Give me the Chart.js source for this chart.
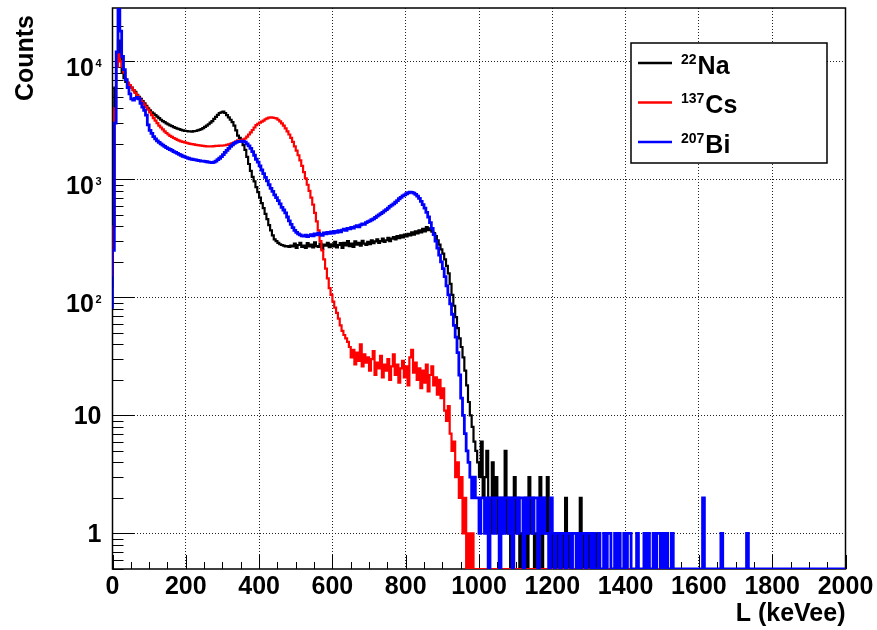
<!DOCTYPE html>
<html>
<head>
<meta charset="utf-8">
<script src="https://cdn.jsdelivr.net/npm/chart.js@4.4.1/dist/chart.umd.min.js"></script>
<style>
  html, body { margin: 0; padding: 0; background: #fff; }
  canvas { display: block; }
</style>
</head>
<body>
<canvas id="spectrumChart" width="877" height="630"></canvas>
<script>
// Histogram bins are 5 keVee wide, starting at 0 (400 bins up to 2000)
const binWidth = 5;

// 22Na light output spectrum (counts per bin)
const naCounts = [
  120, 400, 6000, 12000, 15000, 11000, 8000, 7200, 6700, 6400,
  6200, 6000, 5700, 5500, 5200, 5000, 4800, 4600, 4400, 4200,
  4000, 3850, 3700, 3600, 3500, 3400, 3300, 3200, 3120, 3050,
  2980, 2920, 2870, 2820, 2770, 2730, 2690, 2660, 2630, 2600,
  2580, 2570, 2550, 2550, 2540, 2560, 2570, 2600, 2630, 2660,
  2720, 2780, 2850, 2930, 3020, 3120, 3250, 3380, 3520, 3650,
  3700, 3750, 3650, 3500, 3350, 3200, 3050, 2850, 2600, 2350,
  2250, 2100, 1950, 1780, 1550, 1350, 1180, 1050, 960, 860,
  780, 700, 630, 570, 510, 460, 410, 370, 335, 310,
  300, 290, 282, 278, 275, 270, 272, 268, 275, 270,
  285, 262, 278, 290, 268, 275, 262, 288, 270, 280,
  265, 292, 272, 268, 285, 258, 280, 274, 290, 266,
  282, 270, 295, 265, 278, 288, 262, 290, 276, 300,
  272, 285, 268, 298, 280, 290, 275, 302, 285, 278,
  295, 282, 305, 288, 298, 310, 290, 300, 315, 295,
  305, 320, 300, 315, 325, 310, 330, 318, 335, 322,
  340, 328, 345, 335, 355, 340, 362, 348, 370, 355,
  380, 362, 395, 372, 385, 360, 350, 330, 305, 280,
  255, 235, 210, 185, 160, 130, 105, 85, 68, 55,
  45, 38, 31, 24, 18, 13, 10, 8, 6, 5,
  4, 3, 6, 2, 3, 5, 2, 1, 4, 2,
  3, 1, 2, 1, 2, 5, 1, 2, 0, 2,
  3, 1, 2, 0, 1, 1, 2, 0, 3, 1,
  2, 0, 1, 1, 3, 0, 2, 1, 3, 1,
  0, 1, 0, 1, 0, 0, 1, 0, 2, 1,
  0, 1, 0, 0, 1, 0, 2, 0, 1, 0,
  0, 1, 0, 0, 1, 0, 0, 0, 0, 0,
  0, 0, 0, 0, 0, 0, 0, 1, 0, 0,
  0, 0, 0, 0, 0, 0, 0, 0, 0, 0,
  0, 0, 0, 0, 0, 0, 0, 0, 0, 0,
  1, 0, 0, 0, 0, 0, 0, 0, 0, 0,
  0, 0, 0, 0, 0, 0, 0, 0, 0, 0,
  0, 0, 0, 0, 0, 0, 0, 0, 0, 0,
  0, 0, 0, 0, 0, 0, 0, 0, 0, 0,
  0, 0, 0, 0, 0, 0, 0, 0, 0, 0,
  0, 0, 0, 0, 0, 0, 0, 0, 0, 0,
  0, 0, 0, 0, 0, 0, 0, 0, 0, 0,
  0, 0, 0, 0, 0, 0, 0, 0, 0, 0,
  0, 0, 0, 0, 0, 0, 0, 0, 0, 0,
  0, 0, 0, 0, 0, 0, 0, 0, 0, 0
];

// 137Cs
const csCounts = [
  150, 400, 4000, 9000, 11500, 10000, 9000, 8000, 7000, 6600,
  6300, 6000, 5700, 5400, 5150, 4900, 4700, 4500, 4300, 4100,
  3900, 3700, 3500, 3300, 3150, 3000, 2850, 2750, 2650, 2550,
  2470, 2400, 2340, 2290, 2240, 2200, 2160, 2130, 2100, 2080,
  2060, 2040, 2020, 2000, 1990, 1975, 1960, 1950, 1940, 1930,
  1920, 1910, 1905, 1900, 1900, 1905, 1910, 1920, 1925, 1930,
  1930, 1935, 1945, 1960, 1980, 2000, 2030, 2060, 2100, 2140,
  2120, 2150, 2180, 2220, 2300, 2400, 2500, 2620, 2750, 2880,
  2960, 3020, 3080, 3150, 3230, 3290, 3330, 3350, 3340, 3310,
  3280, 3200, 3100, 2980, 2850, 2700, 2550, 2400, 2250, 2080,
  1900, 1750, 1600, 1450, 1300, 1150, 1020, 900, 800, 700,
  610, 520, 440, 370, 300, 250, 210, 175, 145, 120,
  105, 92, 82, 74, 66, 58, 52, 48, 45, 42,
  38, 31, 36, 27, 34, 29, 40, 26, 33, 28,
  31, 24, 30, 35, 22, 28, 25, 32, 21, 27,
  24, 30, 20, 26, 33, 22, 27, 19, 25, 29,
  21, 26, 18, 31, 36, 23, 28, 20, 25, 17,
  24, 19, 27, 16, 22, 26, 18, 21, 15, 20,
  14, 17, 11, 9, 12, 7, 5, 6, 3, 4,
  2, 3, 1, 2, 0, 1, 0, 1, 0, 0,
  0, 0, 0, 0, 0, 0, 0, 0, 0, 0,
  0, 0, 0, 0, 0, 0, 0, 0, 0, 0,
  0, 0, 0, 0, 0, 0, 0, 0, 0, 0,
  0, 0, 0, 0, 0, 0, 0, 0, 0, 0,
  0, 0, 0, 0, 0, 0, 0, 0, 0, 0,
  0, 0, 0, 0, 0, 0, 0, 0, 0, 0,
  0, 0, 0, 0, 0, 0, 0, 0, 0, 0,
  0, 0, 0, 0, 0, 0, 0, 0, 0, 0,
  0, 0, 0, 0, 0, 0, 0, 0, 0, 0,
  0, 0, 0, 0, 0, 0, 0, 0, 0, 0,
  0, 0, 0, 0, 0, 0, 0, 0, 0, 0,
  0, 0, 0, 0, 0, 0, 0, 0, 0, 0,
  0, 0, 0, 0, 0, 0, 0, 0, 0, 0,
  0, 0, 0, 0, 0, 0, 0, 0, 0, 0,
  0, 0, 0, 0, 0, 0, 0, 0, 0, 0,
  0, 0, 0, 0, 0, 0, 0, 0, 0, 0,
  0, 0, 0, 0, 0, 0, 0, 0, 0, 0,
  0, 0, 0, 0, 0, 0, 0, 0, 0, 0,
  0, 0, 0, 0, 0, 0, 0, 0, 0, 0,
  0, 0, 0, 0, 0, 0, 0, 0, 0, 0
];

// 207Bi
const biCounts = [
  80, 250, 3000, 12000, 27500, 18000, 11000, 8500, 7000, 6000,
  5300, 4800, 4700, 4850, 4950, 4800, 4400, 4100, 3850, 3500,
  2900, 2600, 2450, 2300, 2200, 2120, 2060, 2000, 1950, 1900,
  1860, 1820, 1790, 1760, 1720, 1690, 1660, 1630, 1600, 1570,
  1550, 1530, 1510, 1490, 1480, 1470, 1460, 1450, 1440, 1430,
  1425, 1420, 1410, 1400, 1395, 1390, 1400, 1430, 1470, 1510,
  1560, 1620, 1690, 1760, 1830, 1900, 1960, 2020, 2060, 2090,
  2100, 2110, 2100, 2070, 2000, 1920, 1830, 1720, 1600, 1480,
  1400, 1300, 1200, 1120, 1040, 970, 900, 840, 790, 740,
  700, 660, 620, 580, 550, 520, 480, 445, 415, 390,
  370, 355, 345, 338, 332, 330, 336, 328, 334, 340,
  332, 345, 338, 350, 342, 336, 352, 345, 355, 348,
  358, 350, 362, 355, 368, 360, 372, 378, 370, 385,
  380, 392, 386, 398, 405, 396, 412, 420, 415, 430,
  438, 445, 455, 462, 475, 488, 500, 512, 525, 540,
  555, 570, 590, 605, 620, 640, 660, 685, 705, 725,
  740, 755, 770, 780, 775, 765, 745, 720, 690, 650,
  610, 570, 525, 480, 430, 385, 340, 300, 262, 228,
  200, 175, 150, 125, 105, 88, 72, 58, 46, 34,
  22, 14, 10, 7, 5, 4, 3, 2, 3, 2,
  2, 1, 2, 2, 1, 2, 0, 2, 2, 1,
  2, 2, 0, 2, 1, 2, 2, 1, 2, 0,
  2, 2, 1, 2, 2, 0, 2, 1, 2, 2,
  1, 2, 2, 0, 2, 1, 2, 1, 1, 0,
  2, 1, 0, 1, 1, 0, 1, 1, 0, 1,
  1, 0, 1, 1, 0, 1, 0, 1, 1, 0,
  1, 1, 0, 1, 0, 0, 1, 0, 0, 1,
  0, 1, 1, 0, 0, 1, 0, 1, 0, 0,
  1, 0, 1, 1, 0, 0, 0, 1, 0, 0,
  0, 1, 0, 1, 0, 0, 1, 0, 1, 1,
  0, 1, 0, 1, 0, 0, 1, 0, 0, 0,
  0, 0, 0, 0, 0, 0, 0, 0, 0, 0,
  0, 0, 0, 2, 0, 0, 0, 0, 0, 0,
  0, 0, 0, 1, 0, 0, 0, 0, 0, 0,
  0, 0, 0, 0, 0, 0, 0, 1, 0, 0,
  0, 0, 0, 0, 0, 0, 0, 0, 0, 0,
  0, 0, 0, 0, 0, 0, 0, 0, 0, 0,
  0, 0, 0, 0, 0, 0, 0, 0, 0, 0,
  0, 0, 0, 0, 0, 0, 0, 0, 0, 0,
  0, 0, 0, 0, 0, 0, 0, 0, 0, 0
];

const sourceMass = ["22", "137", "207"];
const sourceSymbol = ["Na", "Cs", "Bi"];
const sourceColors = ["#000000", "#ff0000", "#0000ff"];

const xMin = 0;
const xMax = 2000;
const xTickStep = 200;
const yMin = 0.5;
const yMax = 28300;
const yTickValues = [1, 10, 100, 1000, 10000];
const yTickExponents = ["", "", "2", "3", "4"];

const fontFamily = "'Liberation Sans', Arial, Helvetica, sans-serif";

// turn per-bin counts into step points; empty bins sit on the axis floor
function toSteps(counts) {
  const points = counts.map((c, i) => ({ x: i * binWidth, y: c > 0 ? c : yMin }));
  points.push({ x: counts.length * binWidth, y: points[points.length - 1].y });
  return points;
}

// ROOT-like decorations: frame, inward ticks, y labels with exponents, legend
const rootStyle = {
  id: "rootStyle",
  beforeDatasetsDraw(chart) {
    const { ctx, chartArea: a, scales } = chart;
    const xs = scales.x;
    const ys = scales.y;
    ctx.save();
    ctx.strokeStyle = "#000";

    // x ticks (inside the frame)
    ctx.lineWidth = 1;
    ctx.beginPath();
    for (let v = xMin; v <= xMax; v += 50) {
      const px = Math.round(xs.getPixelForValue(v)) + 0.5;
      const len = v % xTickStep === 0 ? 14 : 7;
      ctx.moveTo(px, a.bottom);
      ctx.lineTo(px, a.bottom - len);
    }
    // y ticks: decades long, 2..9 short
    for (let d = -1; d <= 4; d++) {
      for (let m = 1; m <= 9; m++) {
        const v = m * Math.pow(10, d);
        if (v < yMin || v > yMax) continue;
        const py = Math.round(ys.getPixelForValue(v)) + 0.5;
        const len = m === 1 ? 22 : 11;
        ctx.moveTo(a.left, py);
        ctx.lineTo(a.left + len, py);
      }
    }
    ctx.stroke();

    // frame
    ctx.lineWidth = 1.5;
    ctx.strokeRect(a.left, a.top, a.right - a.left, a.bottom - a.top);

    // y tick labels
    ctx.fillStyle = "#000";
    ctx.textBaseline = "alphabetic";
    ctx.textAlign = "left";
    const labelRight = a.left - 11;
    yTickValues.forEach((v, i) => {
      const py = ys.getPixelForValue(v);
      const exp = yTickExponents[i];
      ctx.font = "bold 25px " + fontFamily;
      if (!exp) {
        const text = String(v);
        const w = ctx.measureText(text).width;
        ctx.fillText(text, labelRight - w, py + 9);
      } else {
        ctx.font = "bold 11px " + fontFamily;
        const supW = ctx.measureText(exp).width;
        ctx.fillText(exp, labelRight - supW, py + 5.5);
        ctx.font = "bold 25px " + fontFamily;
        const baseW = ctx.measureText("10").width;
        ctx.fillText("10", labelRight - supW - 1.5 - baseW, py + 15);
      }
    });

    // y axis title
    ctx.font = "bold 25px " + fontFamily;
    ctx.translate(33, 15);
    ctx.rotate(-Math.PI / 2);
    ctx.textAlign = "right";
    ctx.fillText("Counts", 0, 0);
    ctx.restore();
  },
  afterDraw(chart) {
    const { ctx } = chart;
    ctx.save();
    // legend box
    ctx.fillStyle = "#fff";
    ctx.fillRect(631, 43, 196, 120);
    ctx.strokeStyle = "#000";
    ctx.lineWidth = 1.5;
    ctx.strokeRect(631, 43, 196, 120);

    const rowY = [63, 102.5, 142];
    sourceSymbol.forEach((sym, i) => {
      const y = rowY[i];
      ctx.strokeStyle = sourceColors[i];
      ctx.lineWidth = 2.5;
      ctx.beginPath();
      ctx.moveTo(638, y);
      ctx.lineTo(672, y);
      ctx.stroke();

      ctx.fillStyle = "#000";
      ctx.textAlign = "left";
      ctx.textBaseline = "alphabetic";
      ctx.font = "bold 14px " + fontFamily;
      ctx.fillText(sourceMass[i], 681, y + 0.5);
      const supW = ctx.measureText(sourceMass[i]).width;
      ctx.font = "bold 25px " + fontFamily;
      ctx.fillText(sym, 681 + supW + 1, y + 10.5);
    });
    ctx.restore();
  },
};

const ctx = document.getElementById("spectrumChart").getContext("2d");

const allCounts = [naCounts, csCounts, biCounts];
const widths = [2.2, 2.2, 2.8];
const drawOrder = [2, 1, 0]; // Bi drawn last, on top

new Chart(ctx, {
  type: "line",
  data: {
    datasets: allCounts.map((counts, i) => ({
      label: sourceMass[i] + sourceSymbol[i],
      data: toSteps(counts),
      borderColor: sourceColors[i],
      backgroundColor: sourceColors[i],
      borderWidth: widths[i],
      stepped: "after",
      pointRadius: 0,
      fill: false,
      order: drawOrder[i],
    })),
  },
  options: {
    responsive: false,
    animation: false,
    devicePixelRatio: 1,
    layout: { padding: { top: 8, right: 31.5, left: 0, bottom: 0 } },
    plugins: {
      legend: { display: false },
      tooltip: { enabled: false },
    },
    scales: {
      x: {
        type: "linear",
        min: xMin,
        max: xMax,
        ticks: {
          stepSize: xTickStep,
          autoSkip: false,
          maxRotation: 0,
          padding: 3,
          color: "#000",
          font: { family: fontFamily, size: 25, weight: "bold" },
          callback: (v) => String(v),
        },
        grid: { color: "#222", lineWidth: 1, drawTicks: false },
        border: { display: false, dash: [1, 2] },
        title: {
          display: true,
          text: "L (keVee)",
          align: "end",
          color: "#000",
          font: { family: fontFamily, size: 25, weight: "bold" },
          padding: { top: 0, bottom: 1 },
        },
        afterFit: (scale) => {
          scale.height = 61;
        },
      },
      y: {
        type: "logarithmic",
        min: yMin,
        max: yMax,
        afterBuildTicks: (scale) => {
          scale.ticks = yTickValues.map((v) => ({ value: v }));
        },
        ticks: { display: false },
        grid: { color: "#222", lineWidth: 1, drawTicks: false },
        border: { display: false, dash: [1, 2] },
        afterFit: (scale) => {
          scale.width = 112.5;
        },
      },
    },
  },
  plugins: [rootStyle],
});
</script>
</body>
</html>
